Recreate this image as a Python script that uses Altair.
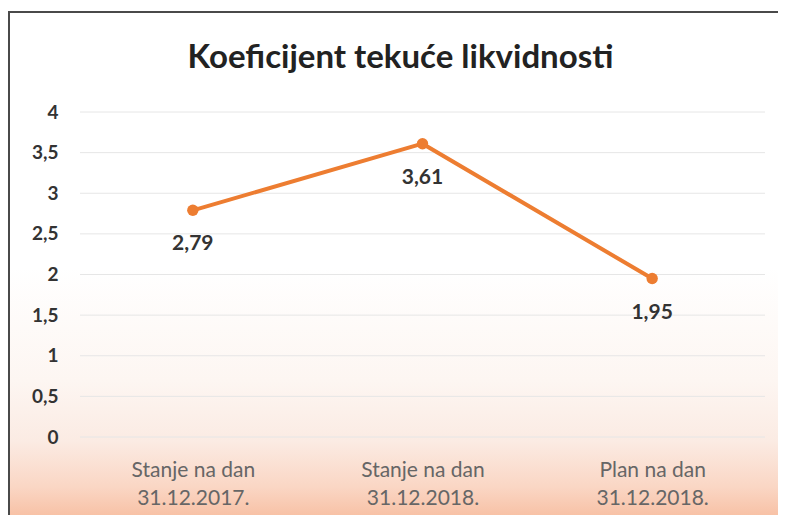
import altair as alt
import pandas as pd

categories = ["Stanje na dan|31.12.2017.", "Stanje na dan|31.12.2018.", "Plan na dan|31.12.2018."]
values = [2.79, 3.61, 1.95]
value_labels = ["2,79", "3,61", "1,95"]
y_ticks = [0, 0.5, 1, 1.5, 2, 2.5, 3, 3.5, 4]
title_text = "Koeficijent tekuće likvidnosti"

df = pd.DataFrame({"cat": categories, "val": values, "lab": value_labels})
grid_df = pd.DataFrame({"val": y_ticks})

W, H = 689, 325
FONT = "Lato"

bg = alt.Chart(pd.DataFrame({"a": [0]})).mark_rect(
    fill=alt.Gradient(
        gradient="linear",
        stops=[
            alt.GradientStop(color="#ffffff", offset=0),
            alt.GradientStop(color="#ffffff", offset=0.5),
            alt.GradientStop(color="#fdf6f2", offset=0.72),
            alt.GradientStop(color="#fbebe3", offset=0.84),
            alt.GradientStop(color="#fad6c4", offset=0.93),
            alt.GradientStop(color="#f7bc9e", offset=1),
        ],
        x1=0, x2=0, y1=0, y2=1,
    ),
    stroke="#4a4a4a",
    strokeWidth=2,
).encode(
    x=alt.value(-69), x2=alt.value(W + 40),
    y=alt.value(-100), y2=alt.value(H + 86),
)

y_scale = alt.Scale(domain=[0, 4])
y_axis = alt.Axis(
    values=y_ticks,
    labelExpr="replace(toString(datum.value), '.', ',')",
    labelFont=FONT, labelFontSize=19, labelColor="#333333", labelFontWeight="bold",
    labelPadding=20, ticks=False, domain=False, grid=False, zindex=1,
)

grid = alt.Chart(grid_df).mark_rule(color="#e6e6e6", strokeWidth=1).encode(
    y=alt.Y("val:Q", scale=y_scale, title=None, axis=y_axis),
    x=alt.value(2), x2=alt.value(W - 2),
)

x_enc = alt.X(
    "cat:N", sort=categories, title=None,
    scale=alt.Scale(paddingOuter=0.5, paddingInner=0),
    axis=alt.Axis(
        labelExpr="split(datum.label, '|')",
        labelAngle=0, labelFont=FONT, labelFontSize=21, labelColor="#666666",
        labelPadding=22, labelLineHeight=28, ticks=False, domain=False, grid=False,
        zindex=1,
    ),
)
y_enc = alt.Y("val:Q", title=None, scale=y_scale, axis=y_axis)

base = alt.Chart(df).encode(x=x_enc, y=y_enc)
line = base.mark_line(color="#ED7D31", strokeWidth=4)
pts = base.mark_point(filled=True, color="#ED7D31", size=130, opacity=1)
txt = base.mark_text(dy=34, font=FONT, fontSize=21, color="#333333", fontWeight="bold").encode(text="lab:N")

title = alt.Chart(pd.DataFrame({"t": [title_text]})).mark_text(
    font=FONT, fontSize=33, fontWeight="bold", color="#222222", baseline="middle", align="center",
).encode(text="t:N", x=alt.value(W / 2 - 22), y=alt.value(-54))

chart = alt.layer(bg, grid, line, pts, txt, title).properties(
    width=W, height=H,
    autosize=alt.AutoSizeParams(type="none"),
    padding={"left": 70, "top": 104, "right": 11, "bottom": 78},
).configure_view(stroke=None)

chart.save("out.html", embed_options={"renderer": "svg", "actions": False})
